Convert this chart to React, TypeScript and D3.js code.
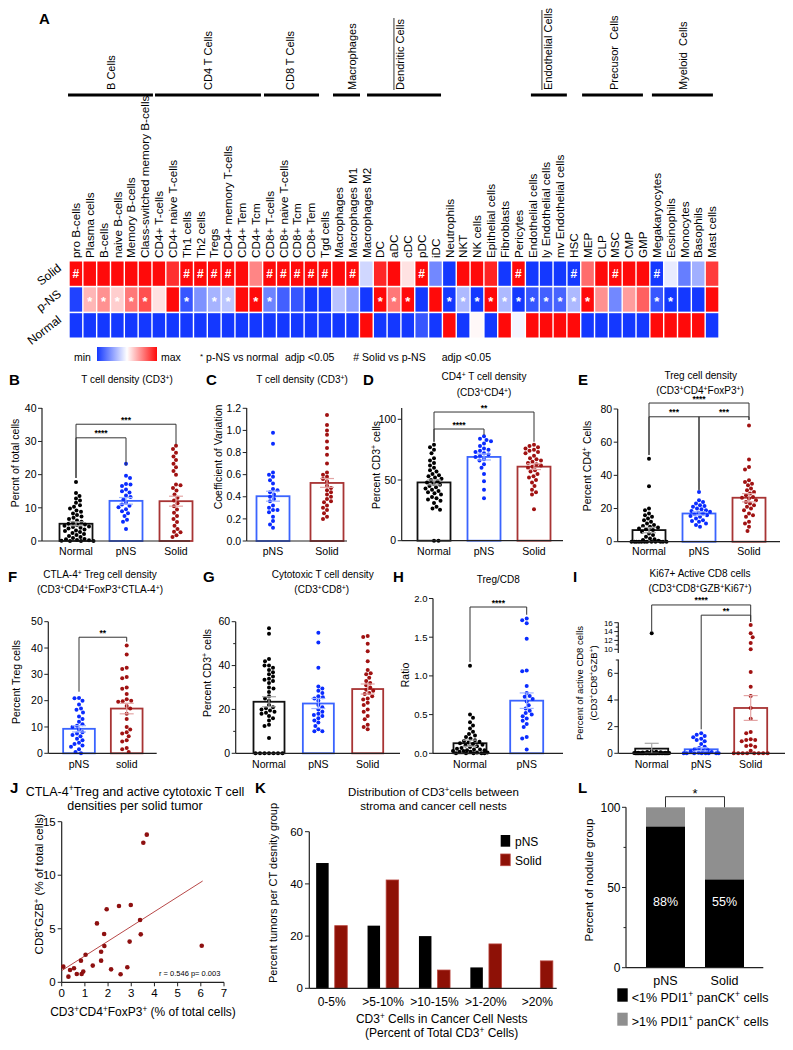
import React from "react";
import * as d3 from "d3";

const FONT = "'Liberation Sans', Arial, Helvetica, sans-serif";

// ================= Panel A: heatmap =================
const CELL_TYPES = ["pro B-cells","Plasma cells","B-cells","naive B-cells","Memory B-cells","Class-switched memory B-cells","CD4+ T-cells","CD4+ naive T-cells","Th1 cells","Th2 cells","Tregs","CD4+ memory T-cells","CD4+ Tem","CD4+ Tcm","CD8+ T-cells","CD8+ naive T-cells","CD8+ Tcm","CD8+ Tem","Tgd cells","Macrophages","Macrophages M1","Macrophages M2","DC","aDC","cDC","pDC","iDC","Neutrophils","NKT","NK cells","Epithelial cells","Fibroblasts","Pericytes","Endothelial cells","ly Endothelial cells","mv Endothelial cells","HSC","MEP","CLP","MSC","CMP","GMP","Megakaryocytes","Eosinophils","Monocytes","Basophils","Mast cells"];
const HEAT_ROWS = ["Solid", "p-NS", "Normal"];
const HEAT_SOLID = [1,1,1,1,1,1,1,0.85,1,1,1,1,1,0.5,1,1,1,1,1,1,1,-0.2,0.88,1,0.12,1,-0.6,-1,1,1,0.9,-1,1,-1,-1,-1,-1,0.6,1,1,1,1,-1,-0.1,-0.65,-0.4,0.8];
const HEAT_PNS = [-0.95,0.3,0.45,0.2,0.55,0.72,0.12,1,-0.85,-0.55,-0.38,-0.28,1,1,-0.62,-0.8,-0.85,-1,-1,-0.3,-0.48,-1,1,0.55,1,-1,1,-1,-0.35,-1,1,-0.35,-1,-0.85,-0.8,-0.78,-0.35,1,0.45,-0.6,0.4,0.65,-0.85,-1,-1,-1,1];
const HEAT_NORMAL = [-1,-1,-1,-1,-1,-1,-1,-1,-1,-1,-1,-1,-1,-1,-1,-1,-1,-1,-1,-1,-1,1,-1,-1,-1,-0.85,-1,1,-1,0.03,-1,1,-0.05,1,1,1,1,-1,-1,-1,-1,-1,1,1,1,1,-1];
const MARK_SOLID = [0,8,9,10,11,14,15,16,17,18,20,25,32,36,39,42];
const MARK_PNS = [1,2,3,4,5,8,10,11,13,14,22,23,24,27,28,29,30,31,32,33,34,35,36,37,42,43];
const CELL_GROUPS = [
  { name: "B Cells", from: -0.07, to: 6.07, at: 3.04, cursor: false },
  { name: "CD4 T Cells", from: 6.22, to: 13.88, at: 10.05, cursor: false },
  { name: "CD8 T Cells", from: 14.1, to: 18.08, at: 15.98, cursor: false },
  { name: "Macrophages", from: 19.09, to: 21.04, at: 20.46, cursor: false },
  { name: "Dendritic Cells", from: 21.55, to: 26.9, at: 23.93, cursor: true },
  { name: "Endothelial Cells", from: 33.4, to: 36.0, at: 34.63, cursor: true },
  { name: "Precusor\u00a0 Cells", from: 37.1, to: 41.5, at: 39.44, cursor: false },
  { name: "Myeloid\u00a0 Cells", from: 42.15, to: 46.56, at: 44.4, cursor: false },
];

// ================= Dot/bar panels data =================
const B_NORMAL = [17.8,14.5,13.6,12.8,12.2,11.5,10.8,10.3,9.8,9.2,8.8,8.3,7.8,7.4,7.0,6.6,6.2,5.8,5.5,5.2,5.0,4.8,4.6,4.4,4.2,4.0,3.8,3.5,3.2,3.0,2.7,2.4,2.1,1.8,1.5,1.2,0.9,0.6,0.3,0.1,0,0,0,0.2,0.5];
const B_PNS = [23.3,19.7,19.0,17.2,17.0,16.6,15.5,15.0,14.6,13.7,13.3,12.6,11.5,11.0,10.6,10.2,9.6,9.0,8.4,7.5,6.4,5.8,3.6];
const B_SOLID = [28.7,27.7,26.6,25.5,24.4,23.3,22.2,21.1,20.0,17.0,16.8,16.0,15.2,14.0,13.0,12.2,11.4,10.5,9.5,8.5,7.5,6.6,5.7,4.6,3.6,2.8,2.6,1.7,1.2];
const B_MEANS = [5.2, 12.1, 12.0];
const B_SEMS = [0.6, 1.0, 1.5];

const C_PNS = [0.98,0.88,0.62,0.60,0.58,0.55,0.52,0.47,0.46,0.44,0.42,0.40,0.38,0.36,0.32,0.30,0.28,0.28,0.26,0.22,0.18,0.15,0.12];
const C_SOLID = [1.14,1.05,1.0,0.96,0.90,0.84,0.78,0.70,0.62,0.60,0.58,0.56,0.54,0.50,0.48,0.46,0.44,0.42,0.40,0.38,0.36,0.35,0.32,0.30,0.28,0.25,0.22,0.20];
const C_MEANS = [0.405, 0.525];
const C_SEMS = [0.045, 0.04];

const D_NORMAL = [79,77,75,72,68,66,64,62,60,58,57,55,54,53,52,51,50,49,48,47,46,45,44,43,42,41,40,39,38,36,35,34,33,31,28,26.5,25.5,0,0];
const D_PNS = [86,84,83,82,80,78,76,75,74,73,72,71,70,69,67,66,63,60,55,49,42,35];
const D_SOLID = [79,78,77,76,75,74,73,72,70,68,67,66,65,64,63,62,61,60,58,57,55,53,52,50,48,45,42,40,38,26];
const D_MEANS = [48, 69, 61];
const D_SEMS = [2.0, 2.5, 2.4];

const E_NORMAL = [50,33.5,20,19,17,16,15,14,13,12,11,10,9.5,9,8.5,8,7.5,7,6,5,4,3,2,1.5,1,0.5,0,0,0,0,0,0,0,0,0,0,0,0];
const E_PNS = [30,25,24,23,22,21.5,21,20,19.5,19,18.5,18,17.5,17,16.5,16,15.5,15,14,13,12.5,12,11,10,9];
const E_SOLID = [70,49.5,45,43.5,37,36,35,34,32,31,30,29,28,27,26.5,26,25,24,23,22,21,20,19,17,16,15,12,11,9,6.5];
const E_MEANS = [7, 17, 26.5];
const E_SEMS = [1.6, 1.0, 2.5];

const F_PNS = [21,20.9,20,18.5,17,16.5,15.5,14,13,12,11,10.5,10,9,8,7.5,7,6.5,5.5,5,4,3.5,3,2.5,1.5,0.5,0];
const F_SOLID = [41,37.5,32.5,32,29,28.5,25,24.5,22.5,20.5,20,19.8,19.6,18,17,15,13,10,9,8,7.5,6.5,5,4.5,2,1.5,0.5];
const F_MEANS = [9.3, 17];
const F_SEMS = [1.2, 2.0];

const G_NORMAL = [57,54.5,43,42,40,40,39,38,37,36,35,34,33.5,33,32,30,29.5,28,26,25,24,22,21,20.5,20,19.5,19,18.5,18,17,16,15,13,12.5,7,0,0,0,0,0,0,0];
const G_PNS = [55,50.5,39,30.5,29.5,28.5,27.5,26,25.5,25,24,22,21,20,19,18,17.5,17,16,15,14,12.5,11,10,10];
const G_SOLID = [53.5,53,50,46.5,42,38,36.5,36,34.5,33,32,31,30,29,28.5,27.5,27,26,25,24.5,23,22,20,19,17,15.5,13,12,11];
const G_MEANS = [23.5, 22.7, 29.3];
const G_SEMS = [2.3, 2.3, 2.3];

const H_NORMAL = [1.13,0.50,0.46,0.40,0.36,0.32,0.28,0.25,0.23,0.21,0.19,0.17,0.16,0.15,0.14,0.13,0.12,0.11,0.10,0.09,0.08,0.07,0.06,0.05,0.05,0.04,0.04,0.03,0.03,0.02,0.02,0.01,0.01,0,0,0,0,0];
const H_PNS = [1.74,1.72,1.68,1.48,1.07,1.06,0.87,0.78,0.74,0.73,0.70,0.67,0.62,0.58,0.55,0.52,0.50,0.48,0.45,0.42,0.38,0.34,0.21,0.19,0.05];
const H_MEANS = [0.13, 0.68];
const H_SEMS = [0.04, 0.10];

const I_NORMAL = [13.6,0.15,0.12,0.1,0.08,0.06,0.05,0.04,0.03,0.02,0.01,0,0,0,0,0,0,0,0,0,0,0,0,0,0,0,0,0,0,0,0,0,0,0,0,0,0,0,0,0];
const I_PNS = [1.5,1.4,1.3,1.2,1.1,1.0,0.9,0.7,0.5,0.4,0.3,0.25,0.2,0.15,0.1,0.05,0,0,0,0,0,0,0,0];
const I_SOLID = [15.5,13.6,12.7,11.4,10.0,6.1,5.0,4.3,3.4,2.6,1.6,1.5,1.05,1.0,1.0,0.9,0.6,0.55,0.5,0.2,0,0,0,0,0,0,0,0];
const I_MEANS = [0.35, 0.3, 3.4];
const I_SEMS = [0.4, 0.12, 0.93];

// J scatter
const J_X = [0.07,0.29,0.36,0.53,0.65,0.83,0.86,0.93,1.03,1.34,1.52,1.70,1.70,1.83,1.84,1.94,2.13,2.47,2.54,2.83,2.93,2.98,3.38,3.41,3.52,3.67,6.04];
const J_Y = [1.46,0.53,1.15,1.31,0.78,2.02,0.78,1.0,2.58,1.56,5.5,2.02,2.86,4.51,3.39,6.82,1.21,7.13,0.75,1.40,3.80,7.22,5.82,4.48,13.04,13.79,3.42];
const J_FIT = { intercept: 1.09, slope: 1.377, xmax: 6.08 };

// K grouped bars
const K_CATS = ["0-5%", ">5-10%", ">10-15%", ">1-20%", ">20%"];
const K_PNS = [48, 24, 20, 8, 0];
const K_SOLID = [24, 41.5, 7, 17, 10.5];

// L stacked bars
const L_CATS = ["pNS", "Solid"];
const L_LOW = [88, 55];

// ================= helpers =================
function sup(s: string) {
  const parts = s.split("⁺");
  const out: React.ReactNode[] = [];
  parts.forEach((p, i) => {
    if (p) out.push(<tspan key={"t" + i}>{p}</tspan>);
    if (i < parts.length - 1)
      out.push(
        <tspan key={"s" + i} baselineShift="super" fontSize="68%">+</tspan>
      );
  });
  return out;
}

const DOT: Record<string, string> = { N: "#000000", P: "#0a2cff", S: "#a01212" };
const BAR: Record<string, string> = { N: "#111111", P: "#3a64ff", S: "#a83434" };
const ERR: Record<string, string> = { N: "#a8a8a8", P: "#9db2ff", S: "#e3a5a5" };

function swarm(vals: number[], y: (v: number) => number, cx: number, r: number, maxW: number) {
  const pts = vals.map((v) => ({ v, y: y(v), x: cx }));
  const order = pts.slice().sort((a, b) => a.y - b.y);
  const placed: { x: number; y: number }[] = [];
  const d = 2 * r + 0.3;
  order.forEach((p, idx) => {
    let best: number | null = null;
    const sgn = idx % 2 === 0 ? 1 : -1;
    for (let k = 0; k * 0.5 <= maxW && best === null; k++) {
      const offs = k === 0 ? [0] : [sgn * k * 0.5, -sgn * k * 0.5];
      for (const o of offs) {
        const x = cx + o;
        if (placed.every((q) => (q.x - x) ** 2 + (q.y - p.y) ** 2 >= d * d)) {
          best = x;
          break;
        }
      }
    }
    if (best === null) {
      let bx = cx, bd = -1;
      for (let o = -maxW; o <= maxW; o += 0.5) {
        const x = cx + o;
        const md = Math.min(...placed.map((q) => Math.hypot(q.x - x, q.y - p.y)));
        if (md > bd) { bd = md; bx = x; }
      }
      best = bx;
    }
    p.x = best;
    placed.push({ x: best, y: p.y });
  });
  return pts;
}

type Br = { a: number; b: number; top: number; la: number; lb: number; text: string };
type Tick = { v: number; t?: string; fs?: number };

function DotBar(props: {
  keys: string[]; cats: string[]; xr: [number, number]; y: (v: number) => number;
  axisX: number; axisEnd: number; segs: [number, number][]; ticks: Tick[];
  groups: number[][]; means: number[]; sems: number[]; barW: number; catY: number;
  brackets: Br[]; tickFs?: number;
}) {
  const { keys, cats, xr, y, axisX, axisEnd, segs, ticks, groups, means, sems, barW, catY, brackets } = props;
  const tfs = props.tickFs || 10.5;
  const x = d3.scalePoint<number>().domain(cats.map((_, i) => i)).range(xr);
  const y0 = y(0);
  return (
    <g fontFamily={FONT}>
      {groups.map((g, i) => {
        const cx = x(i)!;
        const k = keys[i];
        const pts = swarm(g, y, cx, 2, barW / 2 + 1);
        const m = y(means[i]);
        return (
          <g key={i}>
            <rect x={cx - barW / 2} y={m} width={barW} height={y0 - m} fill="none" stroke={BAR[k]} strokeWidth={1.8} />
            {pts.map((p, j) => (
              <circle key={j} cx={p.x} cy={p.y} r={2} fill={DOT[k]} />
            ))}
            <g stroke={ERR[k]} strokeWidth={1.2}>
              <line x1={cx} x2={cx} y1={y(means[i] - sems[i])} y2={y(means[i] + sems[i])} />
              <line x1={cx - 7} x2={cx + 7} y1={y(means[i] + sems[i])} y2={y(means[i] + sems[i])} />
              <line x1={cx - 7} x2={cx + 7} y1={y(Math.max(0, means[i] - sems[i]))} y2={y(Math.max(0, means[i] - sems[i]))} />
            </g>
            <text x={cx} y={catY} textAnchor="middle" fontSize={10.5}>{cats[i]}</text>
          </g>
        );
      })}
      {segs.map((s, i) => (
        <line key={i} x1={axisX} x2={axisX} y1={s[0]} y2={s[1]} stroke="#222" strokeWidth={1.2} />
      ))}
      <line x1={axisX} x2={axisEnd} y1={y0} y2={y0} stroke="#222" strokeWidth={1.2} />
      {ticks.map((t, i) => (
        <g key={i}>
          <line x1={axisX - (t.t !== undefined ? 4 : 2.5)} x2={axisX} y1={y(t.v)} y2={y(t.v)} stroke="#222" strokeWidth={1} />
          {t.t !== undefined && (
            <text x={axisX - 5.5} y={y(t.v)} dy="0.35em" textAnchor="end" fontSize={t.fs || tfs}>{t.t}</text>
          )}
        </g>
      ))}
      {brackets.map((b, i) => {
        const xa = x(b.a)!, xb = x(b.b)!, yt = y(b.top);
        return (
          <g key={i}>
            <path d={`M${xa},${y(b.la)}V${yt}H${xb}V${y(b.lb)}`} fill="none" stroke="#333" strokeWidth={1} />
            <text x={(xa + xb) / 2} y={yt - 1.5} textAnchor="middle" fontSize={8.5} fontWeight="bold">{b.text}</text>
          </g>
        );
      })}
    </g>
  );
}

function YLabel({ x, y, text, fs = 10.5 }: { x: number; y: number; text: string; fs?: number }) {
  return (
    <text transform={`translate(${x},${y}) rotate(-90)`} textAnchor="middle" dy="0.35em" fontSize={fs} fontFamily={FONT}>
      {sup(text)}
    </text>
  );
}

function Title({ x, y, text, fs = 10 }: { x: number; y: number; text: string; fs?: number }) {
  return (
    <text x={x} y={y} textAnchor="middle" fontSize={fs} fontFamily={FONT}>{sup(text)}</text>
  );
}

function Letter({ x, y, t }: { x: number; y: number; t: string }) {
  return <text x={x} y={y} fontSize={15} fontWeight="bold" fontFamily={FONT}>{t}</text>;
}

const mkTicks = (vals: number[], fmt?: (v: number) => string, fs?: number): Tick[] =>
  vals.map((v) => ({ v, t: fmt ? fmt(v) : String(v), fs }));

// ================= App =================
export default function App() {
  // ---- heatmap scales
  const col = d3.scaleLinear().domain([0, 47]).range([69, 719]);
  const cw = col(1) - col(0);
  const row = d3.scaleBand<string>().domain(HEAT_ROWS).range([261.5, 337.5]).paddingInner(0.06);
  const heatColor = d3.scaleLinear<string>().domain([-1, 0, 1]).range(["#1438ff", "#ffffff", "#ff0a0a"]).interpolate(d3.interpolateRgb);
  const heat = [HEAT_SOLID, HEAT_PNS, HEAT_NORMAL];
  const marks = [MARK_SOLID, MARK_PNS, [] as number[]];
  const markChar = ["#", "*", ""];

  // ---- dot-panel scales
  const yB = d3.scaleLinear().domain([0, 40]).range([541, 408.3]);
  const yC = d3.scaleLinear().domain([0, 1.2]).range([541, 408.3]);
  const yD = d3.scaleLinear().domain([0, 100]).range([540.7, 419.3]);
  const yE = d3.scaleLinear().domain([0, 80]).range([541.7, 409]);
  const yF = d3.scaleLinear().domain([0, 50]).range([753.3, 621.7]);
  const yG = d3.scaleLinear().domain([0, 60]).range([753.3, 621.7]);
  const yH = d3.scaleLinear().domain([0, 2]).range([753.3, 598.5]);
  const yIlow = d3.scaleLinear().domain([0, 7]).range([753.3, 660]);
  const yIup = d3.scaleLinear().domain([10, 16]).range([649.3, 622.7]);
  const yI = (v: number) => (v <= 8 ? yIlow(v) : yIup(v));
  const f1 = d3.format(".1f");

  // ---- J
  const jx = d3.scaleLinear().domain([0, 7]).range([61.7, 224]);
  const jy = d3.scaleLinear().domain([0, 15]).range([982.3, 821.7]);
  const fitLine = d3.line<number>().x((v) => jx(v)).y((v) => jy(J_FIT.intercept + J_FIT.slope * v));

  // ---- K
  const kx = d3.scalePoint<string>().domain(K_CATS).range([331.7, 537.3]);
  const ky = d3.scaleLinear().domain([0, 60]).range([988.3, 831.7]);
  const kw = 12.5, koff = 9.3;

  // ---- L
  const lx = d3.scalePoint<string>().domain(L_CATS).range([665.5, 724.5]);
  const ly = d3.scaleLinear().domain([0, 100]).range([967.7, 807.3]);
  const lw = 39;

  return (
    <svg width={793} height={1050} viewBox="0 0 793 1050"
      style={{ position: "absolute", left: 0, top: 0, background: "#fff", display: "block" }}
      fontFamily={FONT}>
      <rect width={793} height={1050} fill="#fff" />

      {/* ============ A ============ */}
      <Letter x={39} y={23.5} t="A" />
      {CELL_GROUPS.map((g) => (
        <g key={g.name}>
          <line x1={col(g.from)} x2={col(g.to)} y1={95} y2={95} stroke="#000" strokeWidth={3} />
          <text transform={`translate(${col(g.at)},90) rotate(-90)`} dy="0.35em" fontSize={11}>{g.name}</text>
          {g.cursor && (
            <line x1={col(g.at) - 6} x2={col(g.at) - 6} y1={g.name.length > 15 ? 10 : 18} y2={90} stroke="#000" strokeWidth={0.8} />
          )}
        </g>
      ))}
      {CELL_TYPES.map((c, i) => (
        <text key={c} transform={`translate(${col(i + 0.5)},258) rotate(-90)`} dy="0.36em" fontSize={11.7}>{c}</text>
      ))}
      {HEAT_ROWS.map((r, ri) => (
        <g key={r}>
          <text transform={`translate(62,${row(r)! + row.bandwidth() / 2 - 4}) rotate(-38)`} textAnchor="end" fontSize={12}>{r}</text>
          {heat[ri].map((v, i) => (
            <rect key={i} x={col(i) + 0.7} y={row(r)!} width={cw - 1.4} height={row.bandwidth()} fill={heatColor(v)} />
          ))}
          {marks[ri].map((i) => (
            <text key={"m" + i} x={col(i + 0.5)} y={row(r)! + row.bandwidth() / 2 + (ri === 1 ? 6 : 4)} textAnchor="middle"
              fill="#fff" fontWeight="bold" fontSize={ri === 1 ? 13 : 12}>{markChar[ri]}</text>
          ))}
        </g>
      ))}
      {/* legend */}
      <defs>
        <linearGradient id="hg" x1="0" x2="1" y1="0" y2="0">
          <stop offset="0" stopColor={heatColor(-1)} />
          <stop offset="0.5" stopColor={heatColor(0)} />
          <stop offset="1" stopColor={heatColor(1)} />
        </linearGradient>
      </defs>
      <text x={74} y={361} fontSize={10.5}>min</text>
      <rect x={97} y={347} width={60} height={14} fill="url(#hg)" />
      <text x={161} y={361} fontSize={10.5}>max</text>
      <text x={200} y={361} fontSize={10.5}><tspan fontSize={8} dy={-2}>*</tspan><tspan dy={2}> p-NS vs normal</tspan></text>
      <text x={285} y={361} fontSize={10.5}>adjp &lt;0.05</text>
      <text x={353.3} y={361} fontSize={10.5}># Solid vs p-NS</text>
      <text x={441.7} y={361} fontSize={10.5}>adjp &lt;0.05</text>

      {/* ============ B ============ */}
      <Letter x={9} y={385} t="B" />
      <Title x={127} y={383.3} text="T cell density (CD3⁺)" />
      <YLabel x={15} y={463} text="Percnt of total cells" />
      <DotBar keys={["N", "P", "S"]} cats={["Normal", "pNS", "Solid"]} xr={[76, 176]} y={yB}
        axisX={42} axisEnd={190} segs={[[541, 408]]} ticks={mkTicks([0, 10, 20, 30, 40])}
        groups={[B_NORMAL, B_PNS, B_SOLID]} means={B_MEANS} sems={B_SEMS} barW={33} catY={555}
        brackets={[{ a: 0, b: 2, top: 35.2, la: 19, lb: 29.2, text: "***" }, { a: 0, b: 1, top: 31.1, la: 19, lb: 22.7, text: "****" }]} />

      {/* ============ C ============ */}
      <Letter x={206} y={385} t="C" />
      <Title x={302} y={383.3} text="T cell density (CD3⁺)" />
      <YLabel x={218} y={457} text="Coefficient of Variation" />
      <DotBar keys={["P", "S"]} cats={["pNS", "Solid"]} xr={[273, 327]} y={yC}
        axisX={246.7} axisEnd={347} segs={[[541, 408]]} ticks={mkTicks([0, 0.2, 0.4, 0.6, 0.8, 1.0, 1.2], f1)}
        groups={[C_PNS, C_SOLID]} means={C_MEANS} sems={C_SEMS} barW={33} catY={555} brackets={[]} />

      {/* ============ D ============ */}
      <Letter x={363} y={385} t="D" />
      <Title x={484} y={380} text="CD4⁺ T cell density" />
      <Title x={484} y={395.7} text="(CD3⁺CD4⁺)" />
      <YLabel x={376} y={465} text="Percent CD3⁺ cells" />
      <DotBar keys={["N", "P", "S"]} cats={["Normal", "pNS", "Solid"]} xr={[434, 534]} y={yD}
        axisX={401.7} axisEnd={563} segs={[[540.7, 408]]} ticks={mkTicks([0, 50, 100])}
        groups={[D_NORMAL, D_PNS, D_SOLID]} means={D_MEANS} sems={D_SEMS} barW={33} catY={555}
        brackets={[{ a: 0, b: 2, top: 106, la: 81.5, lb: 81.5, text: "**" }, { a: 0, b: 1, top: 92, la: 81.5, lb: 87, text: "****" }]} />

      {/* ============ E ============ */}
      <Letter x={578} y={385} t="E" />
      <Title x={700.7} y={379.3} text="Treg cell density" />
      <Title x={700} y={393.5} text="(CD3⁺CD4⁺FoxP3⁺)" />
      <YLabel x={587} y={466} text="Percent CD4⁺ Cells" />
      <DotBar keys={["N", "P", "S"]} cats={["Normal", "pNS", "Solid"]} xr={[649, 749]} y={yE}
        axisX={617.7} axisEnd={780} segs={[[541.7, 409]]} ticks={mkTicks([0, 20, 40, 60, 80])}
        groups={[E_NORMAL, E_PNS, E_SOLID]} means={E_MEANS} sems={E_SEMS} barW={33} catY={555}
        brackets={[
          { a: 0, b: 2, top: 83.6, la: 52.3, lb: 73.4, text: "****" },
          { a: 0, b: 1, top: 75.3, la: 52.3, lb: 31.2, text: "***" },
          { a: 1, b: 2, top: 75.3, la: 31.2, lb: 73.4, text: "***" },
        ]} />

      {/* ============ F ============ */}
      <Letter x={8} y={581.7} t="F" />
      <Title x={100} y={578.3} text="CTLA-4⁺ Treg cell density" />
      <Title x={100} y={593.3} text="(CD3⁺CD4⁺FoxP3⁺CTLA-4⁺)" />
      <YLabel x={16} y={682} text="Percent Treg cells" />
      <DotBar keys={["P", "S"]} cats={["pNS", "solid"]} xr={[79, 126.7]} y={yF}
        axisX={48.3} axisEnd={156.7} segs={[[753.3, 621.7]]} ticks={mkTicks([0, 10, 20, 30, 40, 50])}
        groups={[F_PNS, F_SOLID]} means={F_MEANS} sems={F_SEMS} barW={31.7} catY={767.7}
        brackets={[{ a: 0, b: 1, top: 44.1, la: 23.4, lb: 42.4, text: "**" }]} />

      {/* ============ G ============ */}
      <Letter x={203} y={581.7} t="G" />
      <Title x={322.7} y={578.3} text="Cytotoxic T cell density" />
      <Title x={321.7} y={593.3} text="(CD3⁺CD8⁺)" />
      <YLabel x={207} y={673} text="Percent CD3⁺ cells" />
      <DotBar keys={["N", "P", "S"]} cats={["Normal", "pNS", "Solid"]} xr={[269, 367.7]} y={yG}
        axisX={235.7} axisEnd={400} segs={[[753.3, 621.7]]}
        ticks={[...mkTicks([0, 20, 40, 60]), { v: 10 }, { v: 30 }, { v: 50 }]}
        groups={[G_NORMAL, G_PNS, G_SOLID]} means={G_MEANS} sems={G_SEMS} barW={31} catY={767.7} brackets={[]} />

      {/* ============ H ============ */}
      <Letter x={393} y={581.7} t="H" />
      <Title x={498.3} y={583.3} text="Treg/CD8" />
      <YLabel x={405} y={675} text="Ratio" />
      <DotBar keys={["N", "P"]} cats={["Normal", "pNS"]} xr={[470, 526.7]} y={yH}
        axisX={433} axisEnd={563} segs={[[753.3, 598.5]]} ticks={mkTicks([0, 0.5, 1, 1.5, 2], f1)}
        groups={[H_NORMAL, H_PNS]} means={H_MEANS} sems={H_SEMS} barW={33} catY={767.7} tickFs={9.5}
        brackets={[{ a: 0, b: 1, top: 1.89, la: 1.18, lb: 1.79, text: "****" }]} />

      {/* ============ I ============ */}
      <Letter x={573} y={581.7} t="I" />
      <Title x={700} y={576.7} text="Ki67+ Active CD8 cells" />
      <Title x={700} y={591.7} text="(CD3⁺CD8⁺GZB⁺Ki67⁺)" />
      <YLabel x={580} y={683} text="Percent of active CD8 cells" fs={9.5} />
      <YLabel x={593.5} y={683} text="(CD3⁺CD8⁺GZB⁺)" fs={9.5} />
      <DotBar keys={["N", "P", "S"]} cats={["Normal", "pNS", "Solid"]} xr={[651.7, 750.7]} y={yI}
        axisX={618.3} axisEnd={785} segs={[[753.3, 659.5], [653, 622.5]]}
        ticks={[...mkTicks([0, 2, 4, 6]), ...mkTicks([10, 12, 14, 16], undefined, 8), { v: 11 }, { v: 13 }, { v: 15 }, { v: 7 }]}
        groups={[I_NORMAL, I_PNS, I_SOLID]} means={I_MEANS} sems={I_SEMS} barW={33} catY={767.7} tickFs={10}
        brackets={[{ a: 0, b: 2, top: 20, la: 14, lb: 16.2, text: "****" }, { a: 1, b: 2, top: 17.7, la: 1.8, lb: 16.2, text: "**" }]} />

      {/* ============ J ============ */}
      <Letter x={10} y={793.3} t="J" />
      <Title x={135} y={796} text="CTLA-4⁺Treg and active cytotoxic T cell" fs={12.5} />
      <Title x={135} y={810} text="densities per solid tumor" fs={12.5} />
      <YLabel x={39} y={884} text="CD8⁺GZB⁺ (% of total cells)" fs={11.5} />
      <text x={143} y={1016} textAnchor="middle" fontSize={12}>{sup("CD3⁺CD4⁺FoxP3⁺ (% of total cells)")}</text>
      <line x1={jx(0)} x2={jx(0)} y1={jy(0)} y2={jy(15)} stroke="#222" strokeWidth={1.2} />
      <line x1={jx(0)} x2={jx(7)} y1={jy(0)} y2={jy(0)} stroke="#222" strokeWidth={1.2} />
      {[0, 5, 10, 15].map((v) => (
        <g key={v}>
          <line x1={jx(0) - 4} x2={jx(0)} y1={jy(v)} y2={jy(v)} stroke="#222" />
          <text x={jx(0) - 6} y={jy(v)} dy="0.35em" textAnchor="end" fontSize={11.5}>{v}</text>
        </g>
      ))}
      {d3.range(0, 8).map((v) => (
        <g key={v}>
          <line x1={jx(v)} x2={jx(v)} y1={jy(0)} y2={jy(0) + 4} stroke="#222" />
          <text x={jx(v)} y={jy(0) + 15} textAnchor="middle" fontSize={11.5}>{v}</text>
        </g>
      ))}
      <path d={fitLine([0, J_FIT.xmax]) || ""} stroke="#b84848" strokeWidth={1} fill="none" />
      {J_X.map((xv, i) => (
        <circle key={i} cx={jx(xv)} cy={jy(J_Y[i])} r={2.3} fill="#8e1010" />
      ))}
      <text x={159} y={976} fontSize={7.5}>r = 0.546   p= 0.003</text>

      {/* ============ K ============ */}
      <Letter x={255} y={793.3} t="K" />
      <Title x={433.5} y={796} text="Distribution of CD3⁺cells between" fs={11.5} />
      <Title x={433.5} y={810} text="stroma and cancer cell nests" fs={11.5} />
      <YLabel x={273.5} y={893} text="Percent tumors per CT desnity group" fs={11} />
      {K_CATS.map((c, i) => (
        <g key={c}>
          {K_PNS[i] > 0 && (
            <rect x={kx(c)! - koff - kw / 2} y={ky(K_PNS[i])} width={kw} height={ky(0) - ky(K_PNS[i])} fill="#000" />
          )}
          <rect x={kx(c)! + koff - kw / 2} y={ky(K_SOLID[i])} width={kw} height={ky(0) - ky(K_SOLID[i])} fill="#8e1106" stroke="#b8453e" strokeWidth={0.8} />
          <text x={kx(c)!} y={1005.7} textAnchor="middle" fontSize={12}>{c}</text>
        </g>
      ))}
      <line x1={309.3} x2={309.3} y1={ky(0)} y2={ky(60)} stroke="#222" strokeWidth={1.2} />
      <line x1={309.3} x2={556.7} y1={ky(0)} y2={ky(0)} stroke="#222" strokeWidth={1.2} />
      {[0, 20, 40, 60].map((v) => (
        <g key={v}>
          <line x1={305} x2={309.3} y1={ky(v)} y2={ky(v)} stroke="#222" />
          <text x={303} y={ky(v)} dy="0.35em" textAnchor="end" fontSize={11.5}>{v}</text>
        </g>
      ))}
      <text x={441.7} y={1023} textAnchor="middle" fontSize={12}>{sup("CD3⁺ Cells in Cancer Cell Nests")}</text>
      <text x={441.7} y={1036.5} textAnchor="middle" fontSize={12}>{sup("(Percent of Total CD3⁺ Cells)")}</text>
      <rect x={500.7} y={835} width={9.5} height={11.7} fill="#000" />
      <text x={515} y={845.5} fontSize={12}>pNS</text>
      <rect x={500.7} y={854} width={9.5} height={11.7} fill="#8e1106" stroke="#b8453e" strokeWidth={0.8} />
      <text x={515} y={864.5} fontSize={12}>Solid</text>

      {/* ============ L ============ */}
      <Letter x={578} y={792.7} t="L" />
      <YLabel x={588.5} y={880} text="Percent of nodule group" fs={11.5} />
      {L_CATS.map((c, i) => (
        <g key={c}>
          <rect x={lx(c)! - lw / 2} y={ly(100)} width={lw} height={ly(L_LOW[i]) - ly(100)} fill="#8f8f8f" />
          <rect x={lx(c)! - lw / 2} y={ly(L_LOW[i])} width={lw} height={ly(0) - ly(L_LOW[i])} fill="#000" />
          <text x={lx(c)!} y={ly(38.5)} textAnchor="middle" fill="#fff" fontSize={12.5}>{L_LOW[i]}%</text>
          <text x={lx(c)!} y={985} textAnchor="middle" fontSize={12.5}>{c}</text>
        </g>
      ))}
      <line x1={626} x2={626} y1={ly(0)} y2={ly(100)} stroke="#222" strokeWidth={1.2} />
      <line x1={626} x2={763.3} y1={ly(0)} y2={ly(0)} stroke="#222" strokeWidth={1.2} />
      {[0, 25, 50, 75, 100].map((v) => (
        <g key={v}>
          <line x1={v % 50 === 0 ? 622 : 623.5} x2={626} y1={ly(v)} y2={ly(v)} stroke="#222" />
          {v % 50 === 0 && <text x={620.5} y={ly(v)} dy="0.35em" textAnchor="end" fontSize={12}>{v}</text>}
        </g>
      ))}
      <path d={`M${lx("pNS")},${ly(100)}V796.7H${lx("Solid")}V${ly(100)}`} fill="none" stroke="#333" strokeWidth={1} />
      <text x={(lx("pNS")! + lx("Solid")!) / 2} y={798} textAnchor="middle" fontSize={13}>*</text>
      <rect x={617.3} y={988.3} width={10.4} height={13.4} fill="#000" />
      <text x={631.7} y={1001.5} fontSize={12.5}>{sup("<1% PDI1⁺ panCK⁺ cells")}</text>
      <rect x={617.3} y={1012.7} width={10.4} height={13} fill="#8f8f8f" />
      <text x={631.7} y={1025.5} fontSize={12.5}>{sup(">1% PDI1⁺ panCK⁺ cells")}</text>
    </svg>
  );
}
